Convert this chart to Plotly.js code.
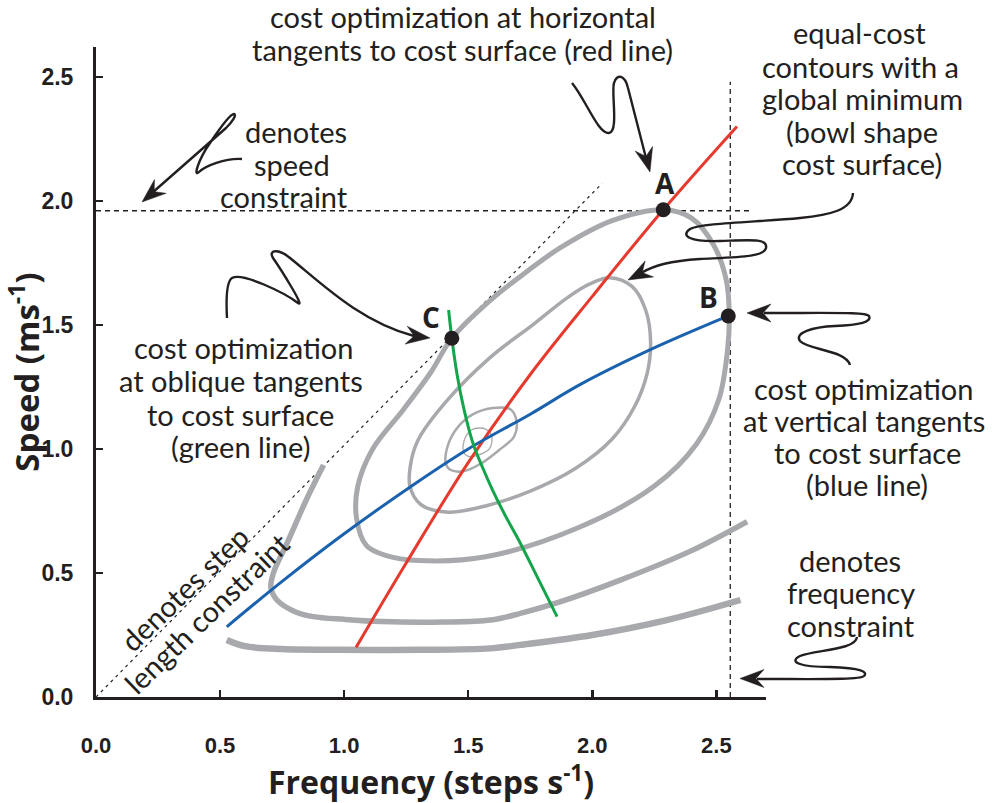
<!DOCTYPE html>
<html><head><meta charset="utf-8">
<script src="https://cdn.plot.ly/plotly-3.0.1.min.js"></script>
<style>html,body{margin:0;padding:0;background:#fff}#chart{width:992px;height:803px}</style>
</head><body><div id="chart"></div>
<script>
// ---------------- data (frequency in steps/s, speed in m/s) ----------------
const xTicks = [0, 0.5, 1.0, 1.5, 2.0, 2.5];
const yTicks = [0, 0.5, 1.0, 1.5, 2.0, 2.5];

// equal-cost contours (closed, innermost to outermost)
const contour1X = [1.48, 1.49, 1.52, 1.57, 1.595, 1.585, 1.54, 1.50, 1.48];
const contour1Y = [0.99, 1.05, 1.08, 1.08, 1.05, 1.00, 0.975, 0.97, 0.99];
const contour2X = [1.41, 1.42, 1.46, 1.52, 1.60, 1.67, 1.695, 1.685, 1.63, 1.55, 1.48, 1.43, 1.41];
const contour2Y = [0.94, 1.02, 1.09, 1.14, 1.165, 1.16, 1.11, 1.05, 1.00, 0.94, 0.91, 0.915, 0.94];
const contour3X = [2.07, 2.16, 2.215, 2.235, 2.22, 2.17, 2.08, 1.93, 1.75, 1.57, 1.42, 1.31, 1.265, 1.27, 1.30, 1.41, 1.59, 1.76, 1.90, 1.99, 2.07];
const contour3Y = [1.69, 1.655, 1.56, 1.43, 1.30, 1.17, 1.04, 0.92, 0.83, 0.77, 0.745, 0.775, 0.85, 0.95, 1.04, 1.19, 1.37, 1.50, 1.61, 1.665, 1.69];
const contour4X = [2.288, 2.40, 2.49, 2.54, 2.552, 2.545, 2.51, 2.42, 2.25, 1.95, 1.57, 1.30, 1.17, 1.09, 1.05, 1.055, 1.115, 1.24, 1.35, 1.434, 1.59, 1.73, 1.87, 2.08, 2.288];
const contour4Y = [1.964, 1.93, 1.82, 1.68, 1.54, 1.40, 1.20, 1.02, 0.85, 0.685, 0.565, 0.55, 0.57, 0.61, 0.72, 0.85, 1.00, 1.16, 1.31, 1.446, 1.60, 1.71, 1.81, 1.92, 1.964];
// open contours (outer, not closed inside the plotted range)
const contour5X = [0.917, 0.85, 0.77, 0.715, 0.705, 0.73, 0.80, 0.876, 1.00, 1.15, 1.40, 1.59, 1.71, 1.86, 2.11, 2.40, 2.624];
const contour5Y = [0.935, 0.80, 0.62, 0.50, 0.44, 0.39, 0.345, 0.324, 0.313, 0.304, 0.302, 0.31, 0.337, 0.38, 0.47, 0.59, 0.707];
const contour6X = [0.527, 0.60, 0.75, 0.98, 1.30, 1.59, 1.71, 2.00, 2.30, 2.597];
const contour6Y = [0.23, 0.205, 0.193, 0.19, 0.19, 0.196, 0.21, 0.25, 0.31, 0.391];

// optimisation lines
const redX = [1.048, 1.25, 1.50, 1.75, 2.00, 2.286, 2.583];
const redY = [0.20, 0.54, 0.945, 1.30, 1.615, 1.964, 2.30];
const blueX = [0.527, 0.75, 1.00, 1.306, 1.50, 1.75, 1.952, 2.234, 2.548];
const blueY = [0.283, 0.466, 0.658, 0.874, 1.00, 1.14, 1.26, 1.40, 1.536];
const greenX = [1.421, 1.434, 1.455, 1.485, 1.52, 1.56, 1.60, 1.65, 1.71, 1.78, 1.858];
const greenY = [1.56, 1.446, 1.30, 1.15, 1.02, 0.92, 0.83, 0.73, 0.62, 0.48, 0.324];

// optimum points
const pointLabels = ['A', 'B', 'C'];
const pointX = [2.286, 2.548, 1.434];
const pointY = [1.964, 1.536, 1.446];

// constraints
const speedConstraint = 1.96;        // m/s
const speedLineEnd = 2.644;
const frequencyConstraint = 2.556;   // steps/s
const frequencyLineTop = 2.48;
const stepLength = 1.015;            // speed / frequency along the step-length constraint
const stepLineEnd = 2.04;

// ---------------- helpers for annotation art (pixel -> paper) ----------------
const PX0 = 96, PY0 = 697, PW = 670, PH = 650;
function pp(px, py) { return [(px - PX0) / PW, (PY0 - py) / PH]; }
function pathPx(s) {
  return s.replace(/(\d+(?:\.\d+)?),(\d+(?:\.\d+)?)/g, function (m, a, b) {
    const p = pp(+a, +b); return p[0].toFixed(5) + ',' + p[1].toFixed(5);
  });
}
function arrowHead(tx, ty, dx, dy) {
  const L = Math.hypot(dx, dy); dx /= L; dy /= L;
  const nx = -dy, ny = dx, len = 24, hw = 9, notch = 8;
  const bl = [tx - len * dx + hw * nx, ty - len * dy + hw * ny];
  const br = [tx - len * dx - hw * nx, ty - len * dy - hw * ny];
  const nc = [tx - (len - notch) * dx, ty - (len - notch) * dy];
  const f = v => v.toFixed(2);
  return pathPx(`M ${f(tx)},${f(ty)} L ${f(bl[0])},${f(bl[1])} L ${f(nc[0])},${f(nc[1])} L ${f(br[0])},${f(br[1])} Z`);
}
const ink = '#231f20';
const squiggles = [
  'M 572,83 C 586,100 598,134 609,133 C 619,132 611,92 614,83 C 617,73 625,75 628,88 L 646,158',
  'M 853,193 C 852,210 830,215 800,218 C 760,222 700,223 690,229 C 680,236 690,242 720,241 C 750,240 768,238 766,248 C 764,257 740,257 700,259 C 670,261 655,265 641,273',
  'M 242,159 C 225,158 205,166 199,172 C 193,178 198,160 210,143 C 220,128 230,114 234,114 C 237,115 232,122 226,128 L 152,193',
  'M 227,318 C 226,300 226,282 232,278 C 242,272 285,293 298,303 C 306,309 280,268 273,258 C 268,250 278,248 290,258 C 320,282 360,322 414,336',
  'M 850,365 C 846,350 808,350 800,341 C 794,333 812,327 835,326 C 860,325 872,322 869,316 C 866,312 840,313 764,313',
  'M 857,637 C 856,650 815,650 800,656 C 788,662 800,667 830,667 C 862,668 868,672 864,676 C 860,680 820,679 757,679'
];
const heads = [
  [650, 172, 19, 72], [628, 280, -25, 13], [142, 202, -80, 68],
  [430, 338, 1, 0.12], [747, 313, -1, 0], [740, 678.5, -1, 0]
];
const shapes = [];
squiggles.forEach(s => shapes.push({type: 'path', xref: 'paper', yref: 'paper', path: pathPx(s), line: {color: ink, width: 2.4}}));
heads.forEach(h => shapes.push({type: 'path', xref: 'paper', yref: 'paper', path: arrowHead(h[0], h[1], h[2], h[3]), fillcolor: ink, line: {color: ink, width: 0.5}}));

// ---------------- traces ----------------
const gray = '#a7a9ac';
function contour(x, y, w) {
  return {x: x, y: y, type: 'scatter', mode: 'lines', line: {color: gray, width: w, shape: 'spline', smoothing: 1}, hoverinfo: 'skip', showlegend: false};
}
const traces = [
  {x: [0, speedLineEnd], y: [speedConstraint, speedConstraint], type: 'scatter', mode: 'lines', line: {color: ink, width: 1.3, dash: '5px,4px'}, showlegend: false},
  {x: [frequencyConstraint, frequencyConstraint], y: [0, frequencyLineTop], type: 'scatter', mode: 'lines', line: {color: ink, width: 1.3, dash: '5px,4px'}, showlegend: false},
  {x: [0, stepLineEnd], y: [0, stepLineEnd * stepLength], type: 'scatter', mode: 'lines', line: {color: ink, width: 1.2, dash: '3px,4px'}, showlegend: false},
  contour(contour1X, contour1Y, 1.3),
  contour(contour2X, contour2Y, 2.5),
  contour(contour3X, contour3Y, 3.5),
  contour(contour4X, contour4Y, 5),
  contour(contour5X, contour5Y, 5.5),
  contour(contour6X, contour6Y, 6.5),
  {x: redX, y: redY, type: 'scatter', mode: 'lines', line: {color: '#e63a2e', width: 3, shape: 'spline'}, showlegend: false},
  {x: blueX, y: blueY, type: 'scatter', mode: 'lines', line: {color: '#1b62ae', width: 3, shape: 'spline'}, showlegend: false},
  {x: greenX, y: greenY, type: 'scatter', mode: 'lines', line: {color: '#14a44b', width: 3, shape: 'spline'}, showlegend: false},
  {x: pointX, y: pointY, type: 'scatter', mode: 'markers', marker: {color: ink, size: 15, symbol: 'circle'}, showlegend: false}
];

// ---------------- annotations ----------------
const txtFont = {family: 'Lato, sans-serif', size: 29, color: ink};
function note(px, py, text, extra) {
  const p = pp(px, py);
  return Object.assign({xref: 'paper', yref: 'paper', x: p[0], y: p[1], xanchor: 'center', yanchor: 'middle', showarrow: false, text: text, font: txtFont}, extra || {});
}
// each block: [x of each line], [y of each line], lines
const blocks = [
  [[463, 462], [17, 50], ['cost optimization at horizontal', 'tangents to cost surface (red line)']],
  [[859, 860, 862, 862, 862], [32, 66, 99, 131, 163], ['equal-cost', 'contours with a', 'global minimum', '(bowl shape', 'cost surface)']],
  [[296, 292, 284], [131, 164, 197], ['denotes', 'speed', 'constraint']],
  [[243, 241, 240, 240], [347, 380, 414, 446], ['cost optimization', 'at oblique tangents', 'to cost surface', '(green line)']],
  [[863, 864, 867, 867], [388, 420, 452, 484], ['cost optimization', 'at vertical tangents', 'to cost surface', '(blue line)']],
  [[850, 851, 851], [560, 592, 625], ['denotes', 'frequency', 'constraint']]
];
const annotations = [];
blocks.forEach(b => b[2].forEach((t, i) => annotations.push(note(b[0][i], b[1][i], t))));
annotations.push(note(184, 588, 'denotes step', {textangle: -44}));
annotations.push(note(206, 613, 'length constraint', {textangle: -44}));
const letterShift = [[2, 27], [-20, 19], [-21, 21]];
pointLabels.forEach((t, i) => annotations.push({
  xref: 'x', yref: 'y', x: pointX[i], y: pointY[i], xshift: letterShift[i][0], yshift: letterShift[i][1],
  text: t, showarrow: false, font: {family: 'Open Sans, sans-serif', size: 28, weight: 700, color: ink}
}));

const layout = {
  width: 992, height: 803,
  margin: {l: 96, r: 226, t: 47, b: 106},
  paper_bgcolor: '#fff', plot_bgcolor: '#fff',
  showlegend: false,
  xaxis: {
    range: [0, 2.70], tickvals: xTicks, tickformat: '.1f',
    showline: true, linecolor: ink, linewidth: 3, ticks: 'inside', ticklen: 7, tickwidth: 2.5, tickcolor: ink,
    showgrid: false, zeroline: false, ticklabelstandoff: 27,
    tickfont: {family: 'Liberation Sans, Arial, sans-serif', size: 22, weight: 700, color: ink},
    title: {text: 'Frequency (steps s<sup>-1</sup>)', standoff: 11, font: {family: 'Open Sans, sans-serif', size: 32, weight: 700, color: ink}}
  },
  yaxis: {
    range: [0, 2.62], tickvals: yTicks, tickformat: '.1f',
    showline: true, linecolor: ink, linewidth: 3, ticks: 'inside', ticklen: 7, tickwidth: 2.5, tickcolor: ink,
    showgrid: false, zeroline: false, ticklabelstandoff: 15,
    tickfont: {family: 'Liberation Sans, Arial, sans-serif', size: 23, weight: 700, color: ink},
    title: {text: 'Speed (ms<sup>-1</sup>)', standoff: 2, font: {family: 'Open Sans, sans-serif', size: 33, weight: 700, color: ink}}
  },
  shapes: shapes,
  annotations: annotations
};
Plotly.newPlot('chart', traces, layout, {displayModeBar: false, staticPlot: true});
</script>
</body></html>
